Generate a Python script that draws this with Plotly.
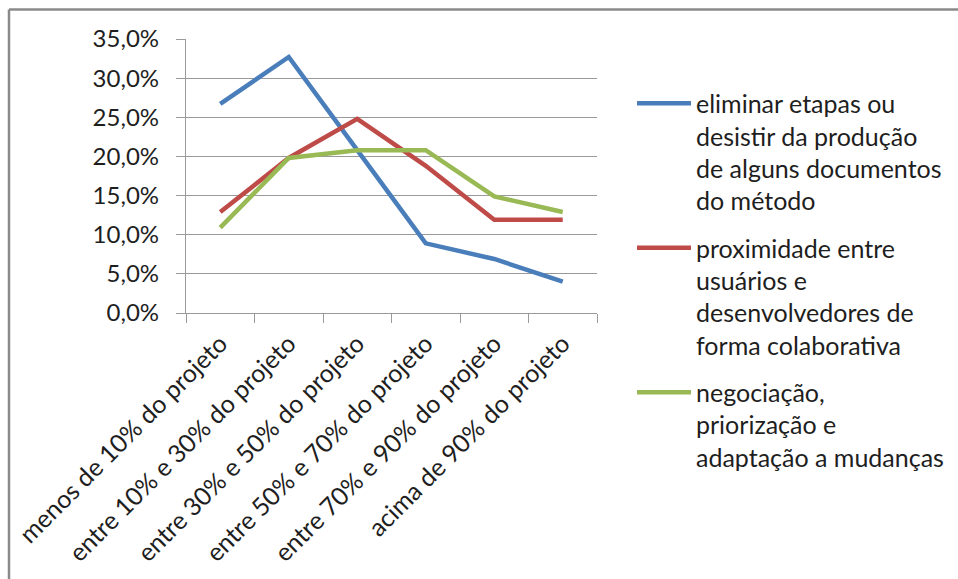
import plotly.graph_objects as go

# Phase of the project (category axis)
categories = [
    "menos de 10% do projeto",
    "entre 10% e 30% do projeto",
    "entre 30% e 50% do projeto",
    "entre 50% e 70% do projeto",
    "entre 70% e 90% do projeto",
    "acima de 90% do projeto",
]

# Share of answers per phase (%)
eliminar_etapas = [26.7, 32.7, 20.8, 8.9, 6.9, 4.0]
proximidade = [12.9, 19.8, 24.8, 18.8, 11.9, 11.9]
negociacao = [10.9, 19.8, 20.8, 20.8, 14.9, 12.9]

# Legend text, one entry per line of the wrapped label
legend_lines = [
    ["eliminar etapas ou", "desistir da produção", "de alguns documentos", "do método"],
    ["proximidade entre", "usuários e", "desenvolvedores de", "forma colaborativa"],
    ["negociação,", "priorização e", "adaptação a mudanças"],
]

y_ticks = [0, 5, 10, 15, 20, 25, 30, 35]
y_tick_labels = [f"{v:.1f}".replace(".", ",") + "%" for v in y_ticks]

series = [eliminar_etapas, proximidade, negociacao]
colors = ["#4a7ebb", "#be4b48", "#98b954"]

FONT = "Lato"
TEXT = "#1e1e1e"
GRID = "#9a9a9a"

W, H = 958, 579
PLOT_L, PLOT_R, PLOT_T, PLOT_B = 186, 597, 38.5, 313.5


def px_x(px):
    return (px - PLOT_L) / (PLOT_R - PLOT_L)


def px_y(py):
    return (PLOT_B - py) / (PLOT_B - PLOT_T)


fig = go.Figure()
for vals, col in zip(series, colors):
    fig.add_trace(go.Scatter(
        x=categories, y=vals, mode="lines",
        line=dict(color=col, width=4.5),
        showlegend=False, hoverinfo="skip",
    ))

shapes = []
annotations = []

# Outer chart frame (top and left edges visible)
shapes.append(dict(type="line", xref="paper", yref="paper",
                   x0=px_x(9), x1=px_x(W + 10), y0=px_y(9), y1=px_y(9),
                   line=dict(color="#8a8a8a", width=2.5)))
shapes.append(dict(type="line", xref="paper", yref="paper",
                   x0=px_x(9), x1=px_x(9), y0=px_y(9), y1=px_y(H + 10),
                   line=dict(color="#8a8a8a", width=2.5)))

# Hand-placed legend: colored line sample + wrapped label lines
group_top = [103, 248, 393]
row_gap = 32.4
for lines, col, top in zip(legend_lines, colors, group_top):
    shapes.append(dict(type="line", xref="paper", yref="paper",
                       x0=px_x(637), x1=px_x(691), y0=px_y(top), y1=px_y(top),
                       line=dict(color=col, width=4.5)))
    for i, txt in enumerate(lines):
        annotations.append(dict(
            xref="paper", yref="paper", x=px_x(694), y=px_y(top + i * row_gap),
            xanchor="left", yanchor="middle", text=txt, showarrow=False,
            font=dict(family=FONT, size=25, color=TEXT),
        ))

fig.update_layout(
    width=W, height=H,
    margin=dict(l=PLOT_L, r=W - PLOT_R, t=PLOT_T, b=H - PLOT_B, autoexpand=False),
    paper_bgcolor="white", plot_bgcolor="white",
    font=dict(family=FONT, size=24, color=TEXT),
    shapes=shapes, annotations=annotations,
    showlegend=False,
)

fig.update_xaxes(
    type="category", range=[-0.5, len(categories) - 0.5],
    tickson="boundaries", ticks="outside", ticklen=9,
    tickcolor=GRID, tickwidth=1.3, showline=True, linecolor=GRID, linewidth=1.3,
    showgrid=False, tickangle=-45, automargin=False, ticklabelstandoff=5,
    tickfont=dict(family=FONT, size=25, color=TEXT),
)
fig.update_yaxes(
    range=[0, 35], tickvals=y_ticks, ticktext=y_tick_labels,
    ticks="outside", ticklen=9, tickcolor=GRID, tickwidth=1.3,
    showline=True, linecolor=GRID, linewidth=1.3,
    showgrid=True, gridcolor=GRID, gridwidth=1.3, zeroline=False,
    automargin=False, ticklabelstandoff=12,
    tickfont=dict(family=FONT, size=24, color=TEXT),
)

fig.write_html("out.html")
